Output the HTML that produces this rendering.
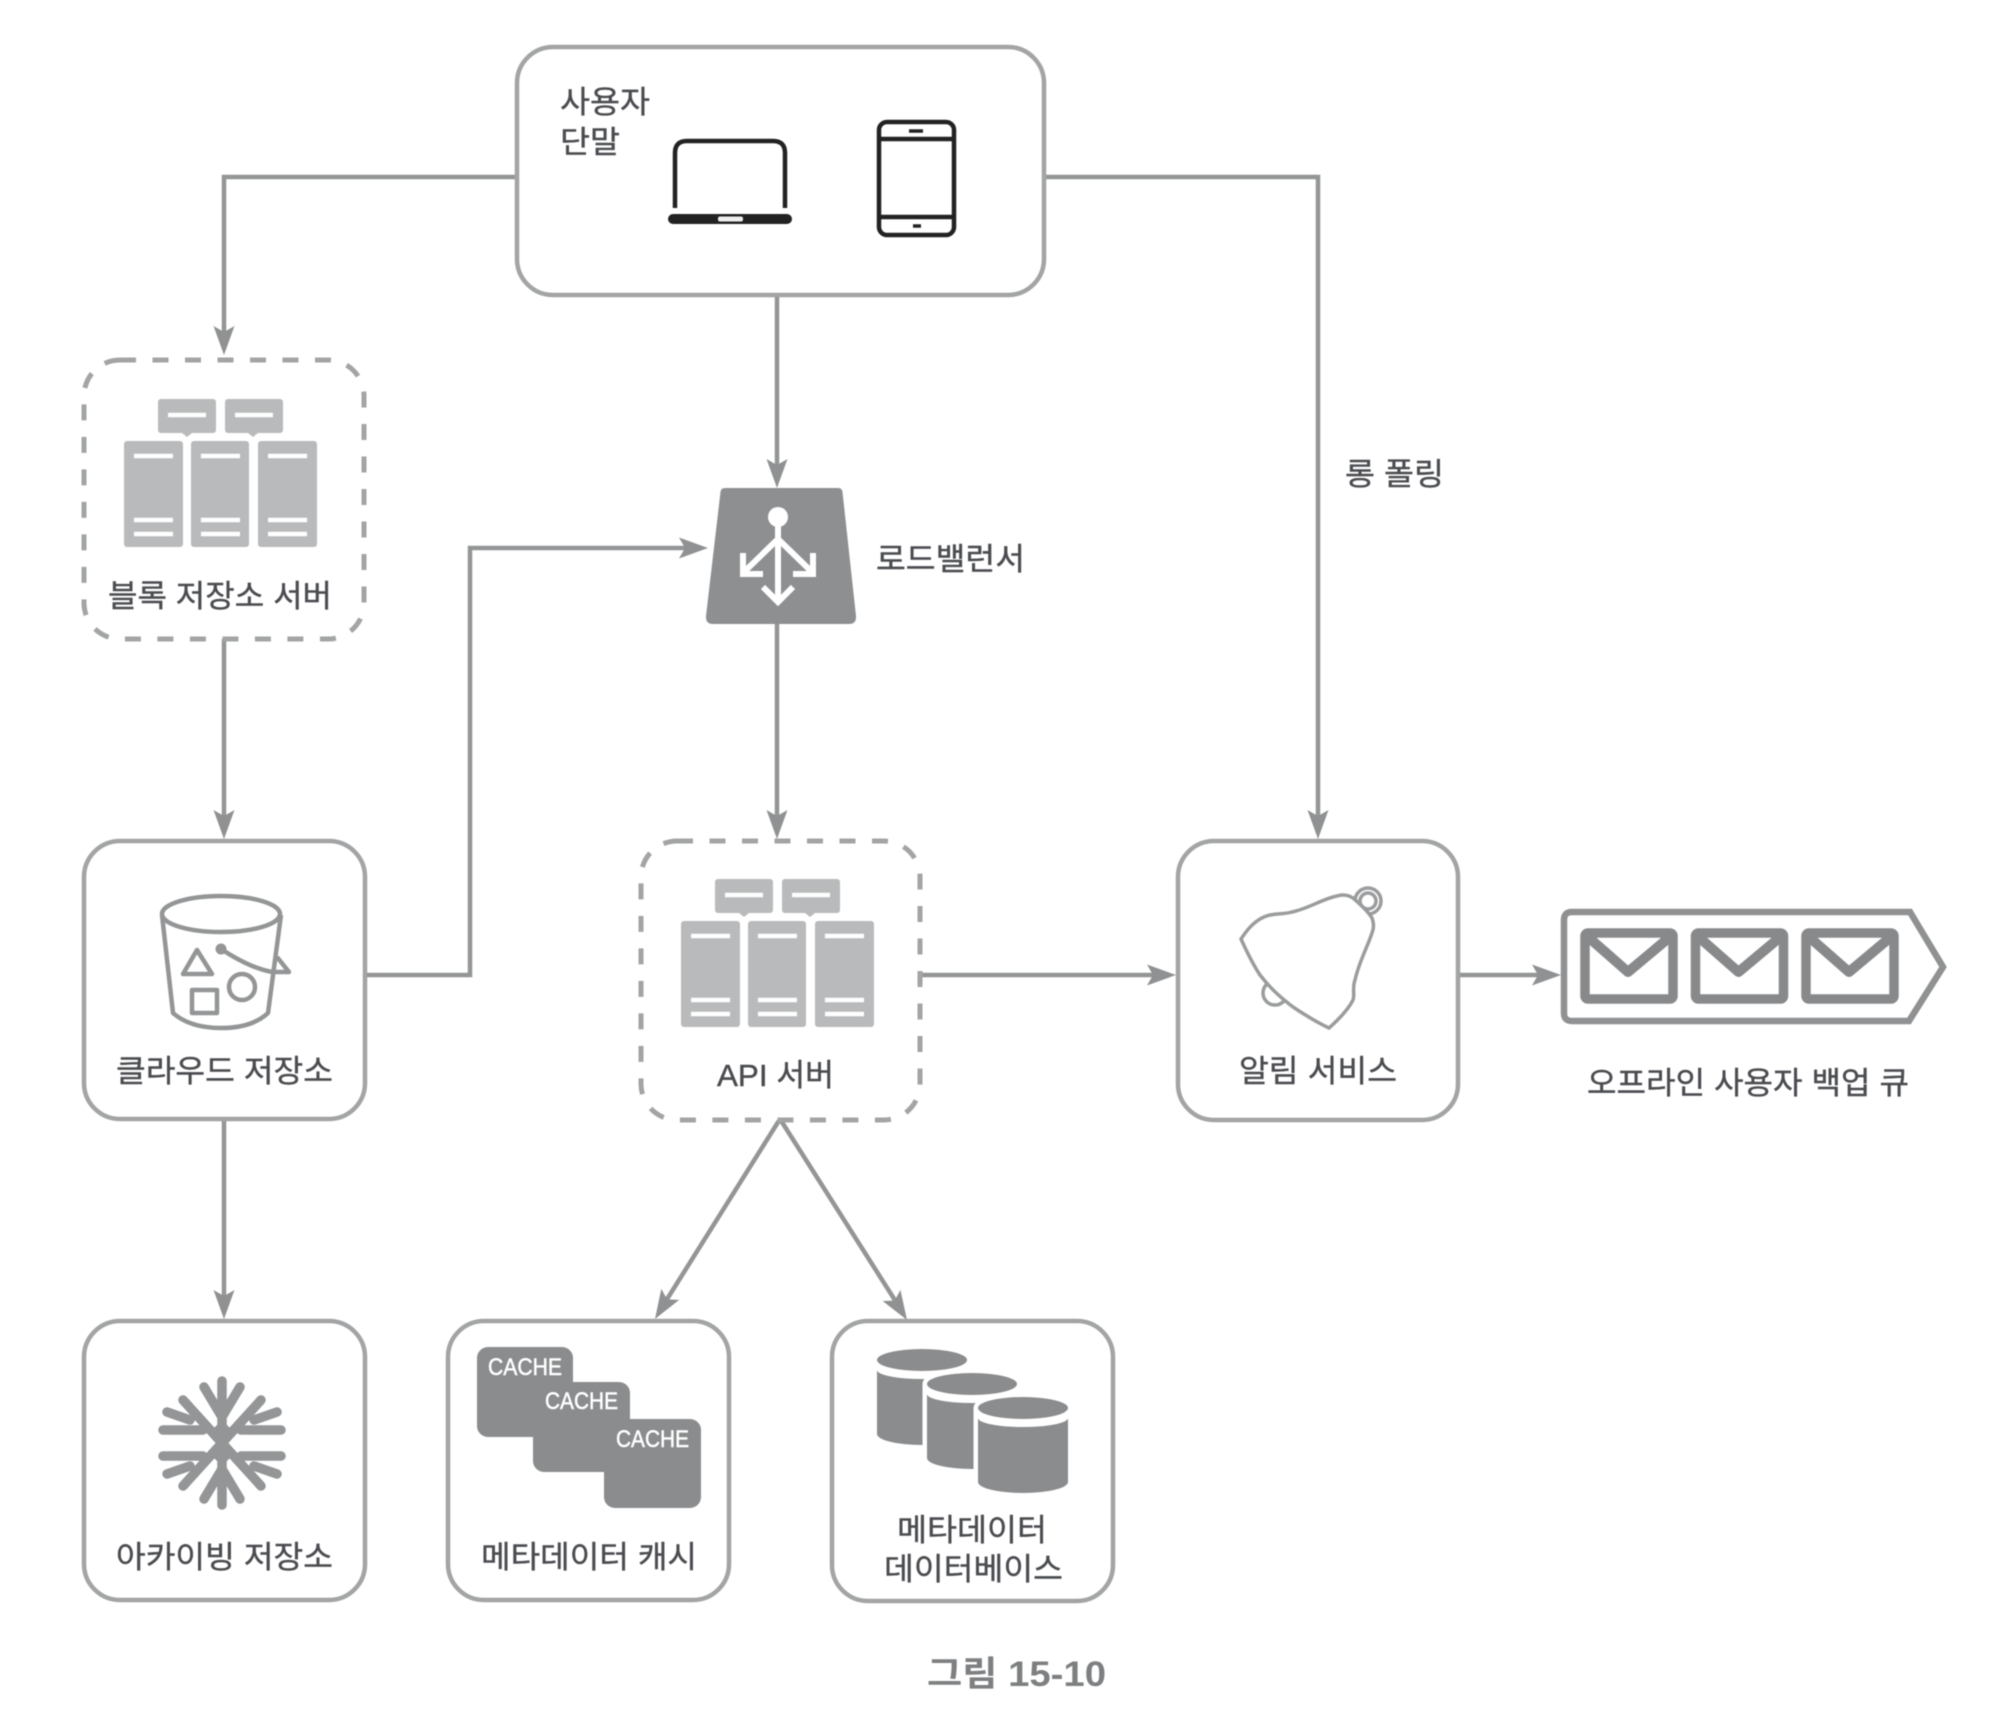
<!DOCTYPE html>
<html lang="ko"><head><meta charset="utf-8"><title>그림 15-10</title>
<style>
html,body{margin:0;padding:0;background:#fff}
svg{display:block;filter:blur(.6px)}
text{font-family:"Liberation Sans","Noto Sans CJK KR",sans-serif;font-size:31px;fill:#4a4c50;stroke:#4a4c50;stroke-width:.4px}
.box{fill:#fff;stroke:#a2a4a5;stroke-width:4.5}
.dash{fill:#fff;stroke:#a2a4a5;stroke-width:5;stroke-dasharray:16 16.5}
.ln{fill:none;stroke:#939596;stroke-width:4.5}
.ic{fill:none;stroke:#939596;stroke-width:4.5;stroke-linejoin:round}
.dk{fill:none;stroke:#222;stroke-width:4.5;stroke-linejoin:round}
.sn{fill:none;stroke:#939596;stroke-width:9.5;stroke-linecap:round}
text.c{fill:#fff;stroke:#fff;stroke-width:.5px;font-size:24px}
</style></head><body>
<svg xmlns="http://www.w3.org/2000/svg" width="2000" height="1727" viewBox="0 0 2000 1727">
<defs>
<path id="ah" d="M0,0 L-29,-10.5 L-23,0 L-29,10.5 Z" fill="#8f9192"/>
<g id="srv">
<g fill="#b8babb">
<rect x="158" y="399" width="58" height="34" rx="3"/><rect x="225" y="399" width="58" height="34" rx="3"/>
<path d="M182,433h10l-5,4zM248,433h10l-5,4z"/>
<rect x="124" y="441" width="59" height="106" rx="3"/><rect x="191" y="441" width="58" height="106" rx="3"/><rect x="258" y="441" width="59" height="106" rx="3"/>
</g>
<g stroke="#fff" stroke-width="4.5" fill="none">
<path d="M168,415h38M235,415h38M134,456h39M201,456h39M268,456h39M134,520h39M201,520h39M268,520h39M134,534h39M201,534h39M268,534h39"/>
</g>
</g>
<g id="cyl">
<path d="M0,11 A45,11 0 0 1 90,11 V85 A45,11 0 0 1 0,85 Z" fill="#fff" stroke="#fff" stroke-width="9"/>
<ellipse cx="45" cy="11" rx="45" ry="11" fill="#8a8c8e"/>
<path d="M0,21 A45,9 0 0 0 90,21 V85 A45,11 0 0 1 0,85 Z" fill="#8a8c8e"/>
</g>
<g id="env" fill="none" stroke="#88898b" stroke-width="9.5" stroke-linejoin="round">
<rect x="1585" y="933" width="88" height="66" rx="3"/>
<path d="M1587,936 L1628,972 L1671,936" stroke-width="10"/>
</g>
<g id="armU"><path d="M222,1443V1381M222,1417L204,1387M222,1417L240,1387"/></g>
<g id="armL"><path d="M222,1443L183,1400M203,1430H163M190,1420L167,1412"/></g>
</defs>

<!-- connectors -->
<path class="ln" d="M517,177H224V335"/><use href="#ah" transform="translate(224,355) rotate(90)"/>
<path class="ln" d="M777,295V470"/><use href="#ah" transform="translate(777,488) rotate(90)"/>
<path class="ln" d="M1044,177H1318V820"/><use href="#ah" transform="translate(1318,839) rotate(90)"/>
<path class="ln" d="M365,975H470V548H690"/><use href="#ah" transform="translate(708,548)"/>
<path class="ln" d="M777,624V820"/><use href="#ah" transform="translate(777,839) rotate(90)"/>
<path class="ln" d="M224,639V820"/><use href="#ah" transform="translate(224,839) rotate(90)"/>
<path class="ln" d="M224,1119V1300"/><use href="#ah" transform="translate(224,1319) rotate(90)"/>
<path class="ln" d="M920,975H1158"/><use href="#ah" transform="translate(1176,975)"/>
<path class="ln" d="M1458,975H1543"/><use href="#ah" transform="translate(1561,975)"/>
<path class="ln" d="M780,1119L664,1304"/><use href="#ah" transform="translate(655,1319) rotate(121.7)"/>
<path class="ln" d="M780,1119L898,1305"/><use href="#ah" transform="translate(907,1320) rotate(57.8)"/>

<!-- boxes -->
<rect class="box" x="517" y="47" width="527" height="248" rx="36"/>
<rect class="dash" x="84" y="360" width="280" height="279" rx="36"/>
<rect class="box" x="84" y="841" width="281" height="278" rx="36"/>
<rect class="dash" x="641" y="841" width="279" height="279" rx="36"/>
<rect class="box" x="1178" y="841" width="280" height="279" rx="36"/>
<rect class="box" x="84" y="1321" width="281" height="279" rx="36"/>
<rect class="box" x="448" y="1321" width="281" height="279" rx="36"/>
<rect class="box" x="832" y="1321" width="281" height="280" rx="36"/>

<!-- user devices -->
<path class="dk" d="M675,208V153Q675,141 687,141H773Q785,141 785,153V208"/>
<rect x="668" y="214" width="124" height="10" rx="5" fill="#222"/>
<rect x="718" y="216.5" width="25" height="5" rx="2" fill="#eee"/>
<rect class="dk" x="879" y="122" width="75" height="113" rx="8"/>
<path class="dk" d="M879,139H954M879,217H954"/>
<path d="M909,131H923M913,226H921" stroke="#222" stroke-width="3.5" fill="none"/>

<!-- servers -->
<use href="#srv"/>
<use href="#srv" transform="translate(557,480)"/>

<!-- load balancer -->
<path d="M725,488H838Q842,488 842.5,492L856,616Q856.5,624 849,624H713Q705.5,624 706,616L720.5,492Q721,488 725,488Z" fill="#8d8f91"/>
<g stroke="#fff" stroke-width="6" fill="none">
<circle cx="778" cy="517" r="10" fill="#fff" stroke="none"/>
<path d="M778,520V601M778,539L743,573M743,553V574H763M778,539L813,573M813,553V574H793M763,587L778,602L793,587"/>
</g>

<!-- bucket -->
<g class="ic">
<ellipse cx="221" cy="914" rx="59" ry="18"/>
<path d="M162,915L173,1013Q190,1028 221,1028Q252,1028 268,1013L281,915"/>
<path d="M197,950L183,974H212Z"/>
<rect x="192" y="990" width="25" height="23"/>
<circle cx="242" cy="987" r="13"/>
<path d="M221,949Q250,968 272,972H289L277,957"/>
</g>
<circle cx="221" cy="949" r="5.5" fill="#939596"/>

<!-- bell -->
<g fill="#fff" stroke="#9a9c9d" stroke-width="3.5">
<circle cx="1368" cy="901" r="13"/><circle cx="1368" cy="901" r="8"/>
<circle cx="1275" cy="993" r="12"/>
<path d="M1241,939C1247,930 1252,924 1260,919C1272,912 1282,915 1292,912C1310,908 1322,899 1337,896C1343,894 1348,895 1353,898C1360,904 1368,911 1372,918C1374,924 1374,928 1372,933C1367,948 1359,962 1355,980C1352,988 1355,994 1353,1000C1348,1010 1338,1020 1329,1028C1316,1022 1305,1015 1293,1007C1280,997 1270,988 1260,975C1252,963 1246,950 1241,939Z"/>
</g>

<!-- queue -->
<path d="M1572,912H1910L1943,967L1909,1021H1572Q1564,1021 1564,1013V920Q1564,912 1572,912Z" fill="#fff" stroke="#8f9192" stroke-width="6.5"/>
<use href="#env"/>
<use href="#env" transform="translate(110.5,0)"/>
<use href="#env" transform="translate(221,0)"/>

<!-- snowflake -->
<g class="sn">
<use href="#armU"/>
<use href="#armU" transform="matrix(1 0 0 -1 0 2886)"/>
<use href="#armL"/>
<use href="#armL" transform="matrix(-1 0 0 1 444 0)"/>
<use href="#armL" transform="matrix(1 0 0 -1 0 2886)"/>
<use href="#armL" transform="matrix(-1 0 0 -1 444 2886)"/>
</g>
<path d="M222,1420L236,1434L222,1443L236,1452L222,1466L208,1452L222,1443L208,1434Z" fill="#939596"/>

<!-- cache -->
<g fill="#8a8c8e">
<rect x="477" y="1347" width="96" height="90" rx="11"/>
<rect x="533" y="1382" width="97" height="90" rx="11"/>
<rect x="604" y="1419" width="97" height="89" rx="11"/>
</g>
<text class="c" x="488" y="1375" textLength="74" lengthAdjust="spacingAndGlyphs">CACHE</text>
<text class="c" x="545" y="1409" textLength="73" lengthAdjust="spacingAndGlyphs">CACHE</text>
<text class="c" x="616" y="1447" textLength="73" lengthAdjust="spacingAndGlyphs">CACHE</text>

<!-- db -->
<use href="#cyl" transform="translate(877,1349)"/>
<use href="#cyl" transform="translate(927,1373)"/>
<use href="#cyl" transform="translate(978,1397)"/>

<!-- labels -->
<g>
<text x="560" y="113" textLength="90" lengthAdjust="spacingAndGlyphs">사용자</text>
<text x="560" y="153" textLength="60" lengthAdjust="spacingAndGlyphs">단말</text>
<text x="108" y="607" textLength="224" lengthAdjust="spacingAndGlyphs">블록 저장소 서버</text>
<text x="116" y="1082" textLength="217" lengthAdjust="spacingAndGlyphs">클라우드 저장소</text>
<text x="876" y="570" textLength="149" lengthAdjust="spacingAndGlyphs">로드밸런서</text>
<text x="1345" y="485" textLength="99" lengthAdjust="spacingAndGlyphs">롱 폴링</text>
<text x="717" y="1086" textLength="117" lengthAdjust="spacingAndGlyphs">API 서버</text>
<text x="1239" y="1082" textLength="158" lengthAdjust="spacingAndGlyphs">알림 서비스</text>
<text x="1587" y="1094" textLength="322" lengthAdjust="spacingAndGlyphs">오프라인 사용자 백업 큐</text>
<text x="116" y="1568" textLength="217" lengthAdjust="spacingAndGlyphs">아카이빙 저장소</text>
<text x="481" y="1568" textLength="216" lengthAdjust="spacingAndGlyphs">메타데이터 캐시</text>
<text x="897" y="1541" textLength="150" lengthAdjust="spacingAndGlyphs">메타데이터</text>
<text x="884" y="1580" textLength="179" lengthAdjust="spacingAndGlyphs">데이터베이스</text>
<text x="927" y="1686" textLength="179" lengthAdjust="spacingAndGlyphs" style="font-size:35px;font-weight:700;fill:#7d7f81;stroke:none">그림 15-10</text>
</g>
</svg>
</body></html>
